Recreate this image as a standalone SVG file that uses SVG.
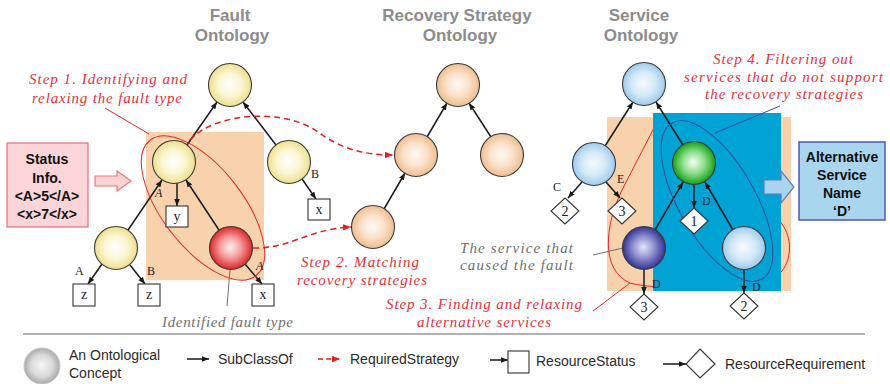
<svg xmlns="http://www.w3.org/2000/svg" width="890" height="384" viewBox="0 0 890 384">
<defs>
<radialGradient id="gY" cx="50%" cy="50%" r="50%" fx="48%" fy="48%"><stop offset="0" stop-color="#ffffff"/><stop offset="0.55" stop-color="#fbf6d2"/><stop offset="1" stop-color="#eedf8c"/></radialGradient>
<radialGradient id="gR" cx="50%" cy="50%" r="50%" fx="48%" fy="48%"><stop offset="0" stop-color="#fff2f2"/><stop offset="0.5" stop-color="#f59a9a"/><stop offset="1" stop-color="#db2626"/></radialGradient>
<radialGradient id="gP" cx="50%" cy="50%" r="50%" fx="48%" fy="48%"><stop offset="0" stop-color="#fffaf5"/><stop offset="0.55" stop-color="#fbe0c8"/><stop offset="1" stop-color="#efbd90"/></radialGradient>
<radialGradient id="gB" cx="50%" cy="50%" r="50%" fx="48%" fy="48%"><stop offset="0" stop-color="#f7fbff"/><stop offset="0.55" stop-color="#d4e9f8"/><stop offset="1" stop-color="#9fcbec"/></radialGradient>
<radialGradient id="gG" cx="50%" cy="50%" r="50%" fx="48%" fy="48%"><stop offset="0" stop-color="#f4fff4"/><stop offset="0.5" stop-color="#8fe08f"/><stop offset="1" stop-color="#14a014"/></radialGradient>
<radialGradient id="gD" cx="50%" cy="50%" r="50%" fx="48%" fy="48%"><stop offset="0" stop-color="#e6e6fb"/><stop offset="0.5" stop-color="#8e90d0"/><stop offset="1" stop-color="#33338f"/></radialGradient>
<radialGradient id="gL" cx="50%" cy="50%" r="50%" fx="48%" fy="48%"><stop offset="0" stop-color="#f6f6f6"/><stop offset="0.6" stop-color="#dadada"/><stop offset="1" stop-color="#a9a9a9"/></radialGradient>
<marker id="ah" viewBox="0 0 10 8" refX="10" refY="4" markerWidth="7" markerHeight="6" markerUnits="userSpaceOnUse" orient="auto"><path d="M0,0 L10,4 L0,8 Z" fill="#1a1a1a"/></marker>
<marker id="ahr" viewBox="0 0 10 8" refX="10" refY="4" markerWidth="8" markerHeight="7" markerUnits="userSpaceOnUse" orient="auto"><path d="M0,0 L10,4 L0,8 Z" fill="#e02020"/></marker>
</defs>
<style>
.title{font-family:"Liberation Sans",Arial,sans-serif;font-weight:bold;font-size:17px;fill:#8c8c8c;text-anchor:middle}
.node{stroke:#3a3a3a;stroke-width:1.1}
.edge{stroke:#1a1a1a;stroke-width:1.5;fill:none;marker-end:url(#ah)}
.req{stroke:#e02020;stroke-width:1.5;fill:none;stroke-dasharray:6 4;marker-end:url(#ahr)}
.box{fill:#fff;stroke:#333;stroke-width:1.1}
.btxt{font-family:"Liberation Serif","Times New Roman",serif;font-size:14px;fill:#222;text-anchor:middle}
.lab{font-family:"Liberation Serif","Times New Roman",serif;font-size:12px;fill:#222}
.red{font-family:"Liberation Serif","Times New Roman",serif;font-style:italic;font-size:15px;fill:#e8303a}
.gray{font-family:"Liberation Serif","Times New Roman",serif;font-style:italic;font-size:15px;fill:#707070}
.bold{font-family:"Liberation Sans",Arial,sans-serif;font-weight:bold;font-size:14px;fill:#111;text-anchor:middle}
.leg{font-family:"Liberation Sans",Arial,sans-serif;font-size:14px;fill:#2a2a2a}
.ann{fill:none;stroke:#e02828;stroke-width:1}
</style>

<!-- titles -->
<g id="titles">
<text class="title" x="230" y="21">Fault</text>
<text class="title" x="232" y="41">Ontology</text>
<text class="title" x="457" y="21">Recovery Strategy</text>
<text class="title" x="460" y="41">Ontology</text>
<text class="title" x="639" y="21">Service</text>
<text class="title" x="641" y="41">Ontology</text>
</g>

<!-- background regions -->
<rect id="fault-region" x="146" y="132" width="118" height="148" fill="#f7d2ad"/>
<rect id="service-region" x="607" y="117" width="184" height="174" fill="#f7d2ad"/>
<path id="step3-region" class="ann" d="M656,124 L622,190 C605,225 600,270 630,283 C660,292 770,286 782,271 C792,258 792,238 782,224 L700,120 Z"/>
<rect id="filter-region" x="653" y="113" width="128" height="178" fill="#00a3d4"/>

<!-- status info -->
<g id="status-info">
<rect x="7" y="143" width="81" height="84" fill="#fcd5d8" stroke="#e0707a" stroke-width="1.2"/>
<text class="bold" x="47" y="164">Status</text>
<text class="bold" x="47" y="183">Info.</text>
<text class="bold" x="47" y="201">&lt;A&gt;5&lt;/A&gt;</text>
<text class="bold" x="47" y="219">&lt;x&gt;7&lt;/x&gt;</text>
</g>
<polygon id="status-arrow" points="95,176 117,176 117,171 131,181 117,191 117,186 95,186" fill="#fcd3d3" stroke="#e87a7a" stroke-width="1.2"/>

<!-- alternative service -->
<polygon id="alt-arrow" points="764,180 781,180 781,171 794,187 781,203 781,194 764,194" fill="#a9d3ee" stroke="#5a7fc0" stroke-width="1.2"/>
<g id="alt-service">
<rect x="799" y="142" width="86" height="78" fill="#a9d5ee" stroke="#5058b0" stroke-width="1.5"/>
<text class="bold" x="842" y="162">Alternative</text>
<text class="bold" x="842" y="180">Service</text>
<text class="bold" x="842" y="198">Name</text>
<text class="bold" x="842" y="216">‘D’</text>
</g>

<!-- connectors -->
<g id="connectors">
<line class="edge" x1="187" y1="145" x2="217" y2="102"/>
<line class="edge" x1="276" y1="145" x2="243" y2="102"/>
<line class="edge" x1="128" y1="230" x2="162" y2="180"/>
<line class="edge" x1="219" y1="230" x2="186" y2="180"/>
<line class="edge" x1="177" y1="183" x2="177" y2="206"/>
<line class="edge" x1="102" y1="264" x2="88" y2="284"/>
<line class="edge" x1="130" y1="265" x2="145" y2="284"/>
<line class="edge" x1="245" y1="264" x2="262" y2="284"/>
<line class="edge" x1="302" y1="179" x2="316" y2="199"/>
<line class="edge" x1="427" y1="137" x2="447" y2="103"/>
<line class="edge" x1="491" y1="137" x2="469" y2="103"/>
<line class="edge" x1="384" y1="209" x2="405" y2="173"/>
<line class="edge" x1="605" y1="146" x2="633" y2="102"/>
<line class="edge" x1="683" y1="145" x2="656" y2="102"/>
<line class="edge" x1="655" y1="230" x2="683" y2="182"/>
<line class="edge" x1="733" y1="230" x2="705" y2="182"/>
<line class="edge" x1="582" y1="182" x2="568" y2="198"/>
<line class="edge" x1="606" y1="182" x2="620" y2="198"/>
<line class="edge" x1="694" y1="185" x2="694" y2="208"/>
<line class="edge" x1="644" y1="270" x2="644" y2="294"/>
<line class="edge" x1="744" y1="270" x2="744" y2="293"/>
<path class="req" d="M190,140 C215,112 285,108 318,132 C340,148 362,155 393,155"/>
<path class="req" d="M253,248 C290,249 308,229 351,227"/>
</g>

<!-- annotations -->
<ellipse class="ann" cx="203" cy="208" rx="86" ry="40" transform="rotate(52 203 208)"/>
<line class="ann" x1="105" y1="108" x2="149" y2="134"/>
<ellipse cx="717" cy="201" rx="90" ry="38" transform="rotate(60 717 201)" fill="none" stroke="#3a4a9a" stroke-width="1"/>
<line x1="780" y1="106" x2="715" y2="133" stroke="#3a4a9a" stroke-width="1"/>
<line x1="227" y1="306" x2="230" y2="270" stroke="#707070" stroke-width="1"/>
<line x1="593" y1="255" x2="623" y2="248" stroke="#707070" stroke-width="1"/>
<line class="ann" x1="593" y1="311" x2="630" y2="283"/>

<!-- fault ontology nodes -->
<g id="f-top"><circle class="node" cx="230" cy="85" r="21.5" fill="url(#gY)"/></g>
<g id="f-mid"><circle class="node" cx="174" cy="162" r="21.5" fill="url(#gY)"/></g>
<g id="f-right"><circle class="node" cx="289" cy="162" r="21.5" fill="url(#gY)"/></g>
<g id="f-botleft"><circle class="node" cx="116" cy="248" r="21.5" fill="url(#gY)"/></g>
<g id="f-fault"><circle class="node" cx="231" cy="248" r="21.5" fill="url(#gR)"/></g>
<g id="f-y"><rect class="box" x="166" y="206" width="22" height="21"/><text class="btxt" x="177" y="221">y</text></g>
<g id="f-z1"><rect class="box" x="73" y="284" width="22" height="22"/><text class="btxt" x="84" y="299">z</text></g>
<g id="f-z2"><rect class="box" x="138" y="284" width="22" height="22"/><text class="btxt" x="149" y="299">z</text></g>
<g id="f-x1"><rect class="box" x="252" y="284" width="22" height="22"/><text class="btxt" x="263" y="299">x</text></g>
<g id="f-x2"><rect class="box" x="308" y="199" width="22" height="21"/><text class="btxt" x="319" y="214">x</text></g>
<text class="lab" x="155" y="197" font-style="italic">A</text>
<text class="lab" x="256" y="270" font-style="italic">A</text>
<text class="lab" x="311" y="178">B</text>
<text class="lab" x="75" y="275">A</text>
<text class="lab" x="147" y="275">B</text>

<!-- recovery strategy nodes -->
<g id="r-top"><circle class="node" cx="458" cy="85" r="21.5" fill="url(#gP)"/></g>
<g id="r-midleft"><circle class="node" cx="416" cy="155" r="21.5" fill="url(#gP)"/></g>
<g id="r-midright"><circle class="node" cx="502" cy="155" r="21.5" fill="url(#gP)"/></g>
<g id="r-bottom"><circle class="node" cx="373" cy="227" r="21.5" fill="url(#gP)"/></g>

<!-- service nodes -->
<g id="s-top"><circle class="node" cx="644" cy="84" r="21.5" fill="url(#gB)"/></g>
<g id="s-midleft"><circle class="node" cx="594" cy="164" r="21.5" fill="url(#gB)"/></g>
<g id="s-green"><circle class="node" cx="694" cy="163" r="21.5" fill="url(#gG)"/></g>
<g id="s-fault"><circle class="node" cx="644" cy="248" r="21.5" fill="url(#gD)"/></g>
<g id="s-right"><circle class="node" cx="744" cy="248" r="21.5" fill="url(#gB)"/></g>
<g id="s-d2a"><polygon class="box" points="565,198 579,211 565,224 551,211"/><text class="btxt" x="565" y="216">2</text></g>
<g id="s-d3a"><polygon class="box" points="622,198 636,211 622,224 608,211"/><text class="btxt" x="622" y="216">3</text></g>
<g id="s-d1"><polygon class="box" points="694,208 708,221 694,234 680,221"/><text class="btxt" x="694" y="226">1</text></g>
<g id="s-d3b"><polygon class="box" points="644,294 658,307 644,320 630,307"/><text class="btxt" x="644" y="312">3</text></g>
<g id="s-d2b"><polygon class="box" points="744,293 758,306 744,319 730,306"/><text class="btxt" x="744" y="311">2</text></g>
<text class="lab" x="553" y="191">C</text>
<text class="lab" x="617" y="183">E</text>
<text class="lab" x="702" y="205">D</text>
<text class="lab" x="652" y="288">D</text>
<text class="lab" x="752" y="291">D</text>

<!-- annotation texts -->
<text class="red" x="29" y="84" textLength="158" lengthAdjust="spacing">Step 1. Identifying and</text>
<text class="red" x="32" y="103" textLength="150" lengthAdjust="spacing">relaxing the fault type</text>
<text class="gray" x="162" y="327" textLength="131" lengthAdjust="spacing">Identified fault type</text>
<text class="red" x="301" y="267" textLength="118" lengthAdjust="spacing">Step 2. Matching</text>
<text class="red" x="297" y="285" textLength="130" lengthAdjust="spacing">recovery strategies</text>
<text class="gray" x="460" y="253" textLength="113" lengthAdjust="spacing">The service that</text>
<text class="gray" x="460" y="270" textLength="113" lengthAdjust="spacing">caused the fault</text>
<text class="red" x="386" y="309" textLength="196" lengthAdjust="spacing">Step 3. Finding and relaxing</text>
<text class="red" x="417" y="327" textLength="134" lengthAdjust="spacing">alternative services</text>
<text class="red" x="713" y="64" textLength="140" lengthAdjust="spacing">Step 4. Filtering out</text>
<text class="red" x="684" y="82" textLength="199" lengthAdjust="spacing">services that do not support</text>
<text class="red" x="705" y="99" textLength="158" lengthAdjust="spacing">the recovery strategies</text>

<!-- legend -->
<line x1="23" y1="334" x2="865" y2="334" stroke="#b4b4b4" stroke-width="2"/>
<g id="legend">
<circle cx="42" cy="366" r="18" fill="url(#gL)" stroke="#c8c8c8" stroke-width="1"/>
<text class="leg" x="69" y="360">An Ontological</text>
<text class="leg" x="69" y="378">Concept</text>
<line class="edge" x1="187" y1="359" x2="209" y2="359"/>
<text class="leg" x="218" y="364">SubClassOf</text>
<line x1="318" y1="359" x2="340" y2="359" stroke="#e02020" stroke-width="1.5" stroke-dasharray="5 3" marker-end="url(#ahr)"/>
<text class="leg" x="350" y="364">RequiredStrategy</text>
<line class="edge" x1="490" y1="360" x2="508" y2="360"/>
<rect class="box" x="508" y="351" width="21" height="22"/>
<text class="leg" x="536" y="366">ResourceStatus</text>
<line class="edge" x1="663" y1="364" x2="686" y2="364"/>
<polygon class="box" points="700,349 715,364 700,378 686,364"/>
<text class="leg" x="725" y="369">ResourceRequirement</text>
</g>
</svg>
